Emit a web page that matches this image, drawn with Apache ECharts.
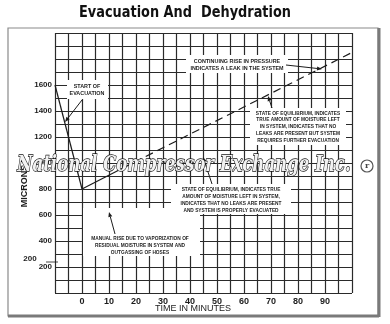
<!DOCTYPE html>
<html>
<head>
<meta charset="utf-8">
<script src="https://cdn.jsdelivr.net/npm/echarts@6/dist/echarts.min.js"></script>
<style>
  html, body { margin: 0; padding: 0; background: #fff; }
  #chart { width: 390px; height: 324px; }
</style>
</head>
<body>
<div id="chart"></div>
<script>
// Pressure (microns) against time (minutes)
const evacTime = [-10, 0];
const evacMicrons = [1600, 800];
const riseTime = [0, 15];
const riseMicrons = [800, 960];
const leakTime = [15, 100];
const leakMicrons = [960, 1850];

const xTickLabels = [0, 10, 20, 30, 40, 50, 60, 70, 80, 90];
const yTickLabels = [200, 400, 600, 800, 1000, 1200, 1400, 1600];

const zip = (xs, ys) => xs.map((x, i) => [x, ys[i]]);

const INK = '#1c1c1c';
const SANS = '"Liberation Sans", Arial, sans-serif';
const NOTE_FONT = 'bold 6px ' + SANS;

// multi-line caption with a white patch behind it
function note(lines, cx, top, lh, sx, box) {
  const els = [];
  if (box) {
    els.push({ type: 'rect', shape: { x: box[0], y: box[1], width: box[2], height: box[3] },
      style: { fill: '#fff' }, z: 5 });
  }
  lines.forEach((t, i) => {
    els.push({
      type: 'text', x: cx, y: top + i * lh, scaleX: sx, z: 6,
      style: { text: t, font: NOTE_FONT, fill: INK, align: 'center', verticalAlign: 'middle' }
    });
  });
  return els;
}

function arrow(x1, y1, x2, y2) {
  const a = Math.atan2(y2 - y1, x2 - x1);
  const L = 5, W = 2;
  const bx = x2 - L * Math.cos(a), by = y2 - L * Math.sin(a);
  const px = -Math.sin(a) * W, py = Math.cos(a) * W;
  return [
    { type: 'line', shape: { x1, y1, x2: bx, y2: by }, style: { stroke: INK, lineWidth: 1 }, z: 7 },
    { type: 'polygon', shape: { points: [[x2, y2], [bx + px, by + py], [bx - px, by - py]] },
      style: { fill: INK }, z: 7 }
  ];
}

const graphics = [].concat(
  // heading
  [{ type: 'text', x: 185, y: 13, scaleX: 0.86, z: 10,
     style: { text: 'Evacuation And  Dehydration', font: 'bold 15px "DejaVu Sans", sans-serif',
              fill: '#111', align: 'center', verticalAlign: 'middle' } }],
  // frame around the figure
  [{ type: 'rect', shape: { x: 8, y: 28, width: 370, height: 288 },
     style: { fill: 'none', stroke: '#8a8a8a', lineWidth: 1.2 }, z: 1 },
   { type: 'line', shape: { x1: 8, y1: 316, x2: 379, y2: 316 }, style: { stroke: '#7a7a7a', lineWidth: 3 }, z: 1 },
   { type: 'line', shape: { x1: 379, y1: 28, x2: 379, y2: 317 }, style: { stroke: '#7a7a7a', lineWidth: 3 }, z: 1 }],
  // axis titles
  [{ type: 'text', x: 193, y: 309, z: 6,
     style: { text: 'TIME IN MINUTES', font: '9px ' + SANS, fill: INK, align: 'center', verticalAlign: 'middle' } },
   { type: 'text', x: 25, y: 186, rotation: Math.PI / 2, z: 6,
     style: { text: 'MICRONS', font: 'bold 9px ' + SANS, fill: INK, align: 'center', verticalAlign: 'middle' } }],
  note(['CONTINUING RISE IN PRESSURE', 'INDICATES A LEAK IN THE SYSTEM'], 237, 61, 7, 0.9, [186, 55, 102, 18]),
  arrow(286, 65, 322, 69),
  note(['START OF', 'EVACUATION'], 87, 86, 7, 0.9, [67, 80, 41, 19]),
  arrow(82, 100, 65, 122),
  note(['STATE OF EQUILIBRIUM, INDICATES', 'TRUE AMOUNT OF MOISTURE LEFT', 'IN SYSTEM, INDICATES THAT NO',
        'LEAKS ARE PRESENT BUT SYSTEM', 'REQUIRES FURTHER EVACUATION'], 298, 113, 6.8, 0.8, [250, 108, 96, 37]),
  arrow(272, 108, 268, 96),
  note(['STATE OF EQUILIBRIUM, INDICATES TRUE', 'AMOUNT OF MOISTURE LEFT IN SYSTEM,',
        'INDICATES THAT NO LEAKS ARE PRESENT', 'AND SYSTEM IS PROPERLY EVACUATED'], 231, 189, 7, 0.8, [171, 184, 120, 30]),
  arrow(212, 184, 203, 157),
  note(['MANUAL RISE DUE TO VAPORIZATION OF', 'RESIDUAL MOISTURE IN SYSTEM AND', 'OUTGASSING OF HOSES'],
       140, 238, 7, 0.8, [83, 208, 117, 48]),
  arrow(115, 234, 109, 212),
  // stray duplicate scale mark at the lower left
  [{ type: 'text', x: 30, y: 259, z: 6,
     style: { text: '200', font: 'bold 8px ' + SANS, fill: INK, align: 'center', verticalAlign: 'middle' } },
   { type: 'line', shape: { x1: 46, y1: 262, x2: 58, y2: 262 }, style: { stroke: INK, lineWidth: 0.8 }, z: 6 }],
  // watermark
  [{ type: 'text', x: 184, y: 165, scaleX: 0.72, z: 20,
     style: { text: 'National Compressor Exchange Inc.', font: 'bold italic 23px "DejaVu Serif", serif',
              fill: '#f2f2f2', stroke: '#111', lineWidth: 1.4, align: 'center', verticalAlign: 'middle',
              shadowColor: 'rgba(0,0,0,0.6)', shadowOffsetX: 2, shadowOffsetY: 2, shadowBlur: 1 } },
   { type: 'circle', shape: { cx: 367, cy: 166, r: 6 }, style: { fill: '#fff', stroke: '#555', lineWidth: 1.2 }, z: 20 },
   { type: 'text', x: 367, y: 166, z: 21,
     style: { text: 'r', font: 'bold 8px "DejaVu Serif", serif', fill: '#444', align: 'center', verticalAlign: 'middle' } }]
);

const chart = echarts.init(document.getElementById('chart'), null, { renderer: 'canvas' });
chart.setOption({
  backgroundColor: '#fff',
  animation: false,
  grid: { left: 55, right: 38, top: 33, bottom: 31 },
  xAxis: {
    type: 'value', min: -10, max: 100, interval: 5,
    axisLine: { show: false }, axisTick: { show: false },
    axisLabel: {
      margin: 4, fontSize: 9, fontWeight: 'bold', color: INK, fontFamily: SANS,
      formatter: v => xTickLabels.includes(v) ? String(v) : ''
    },
    splitLine: { show: true, lineStyle: { color: '#2a2a2a', width: 1.2 } }
  },
  yAxis: {
    type: 'value', min: 0, max: 2000, interval: 100,
    axisLine: { show: false }, axisTick: { show: false },
    axisLabel: {
      margin: 3, fontSize: 8, fontWeight: 'bold', color: INK, fontFamily: SANS,
      formatter: v => yTickLabels.includes(v) ? String(v) : ''
    },
    splitLine: { show: true, lineStyle: { color: '#2a2a2a', width: 1.2 } }
  },
  series: [
    { type: 'line', data: zip(evacTime, evacMicrons), symbol: 'none', z: 8,
      lineStyle: { color: INK, width: 1.2 } },
    { type: 'line', data: zip(riseTime, riseMicrons), symbol: 'none', z: 8,
      lineStyle: { color: INK, width: 1.2 } },
    { type: 'line', data: zip(leakTime, leakMicrons), symbol: 'none', z: 8,
      lineStyle: { color: INK, width: 1.2, type: [8, 5] } }
  ],
  graphic: graphics
});
</script>
</body>
</html>
